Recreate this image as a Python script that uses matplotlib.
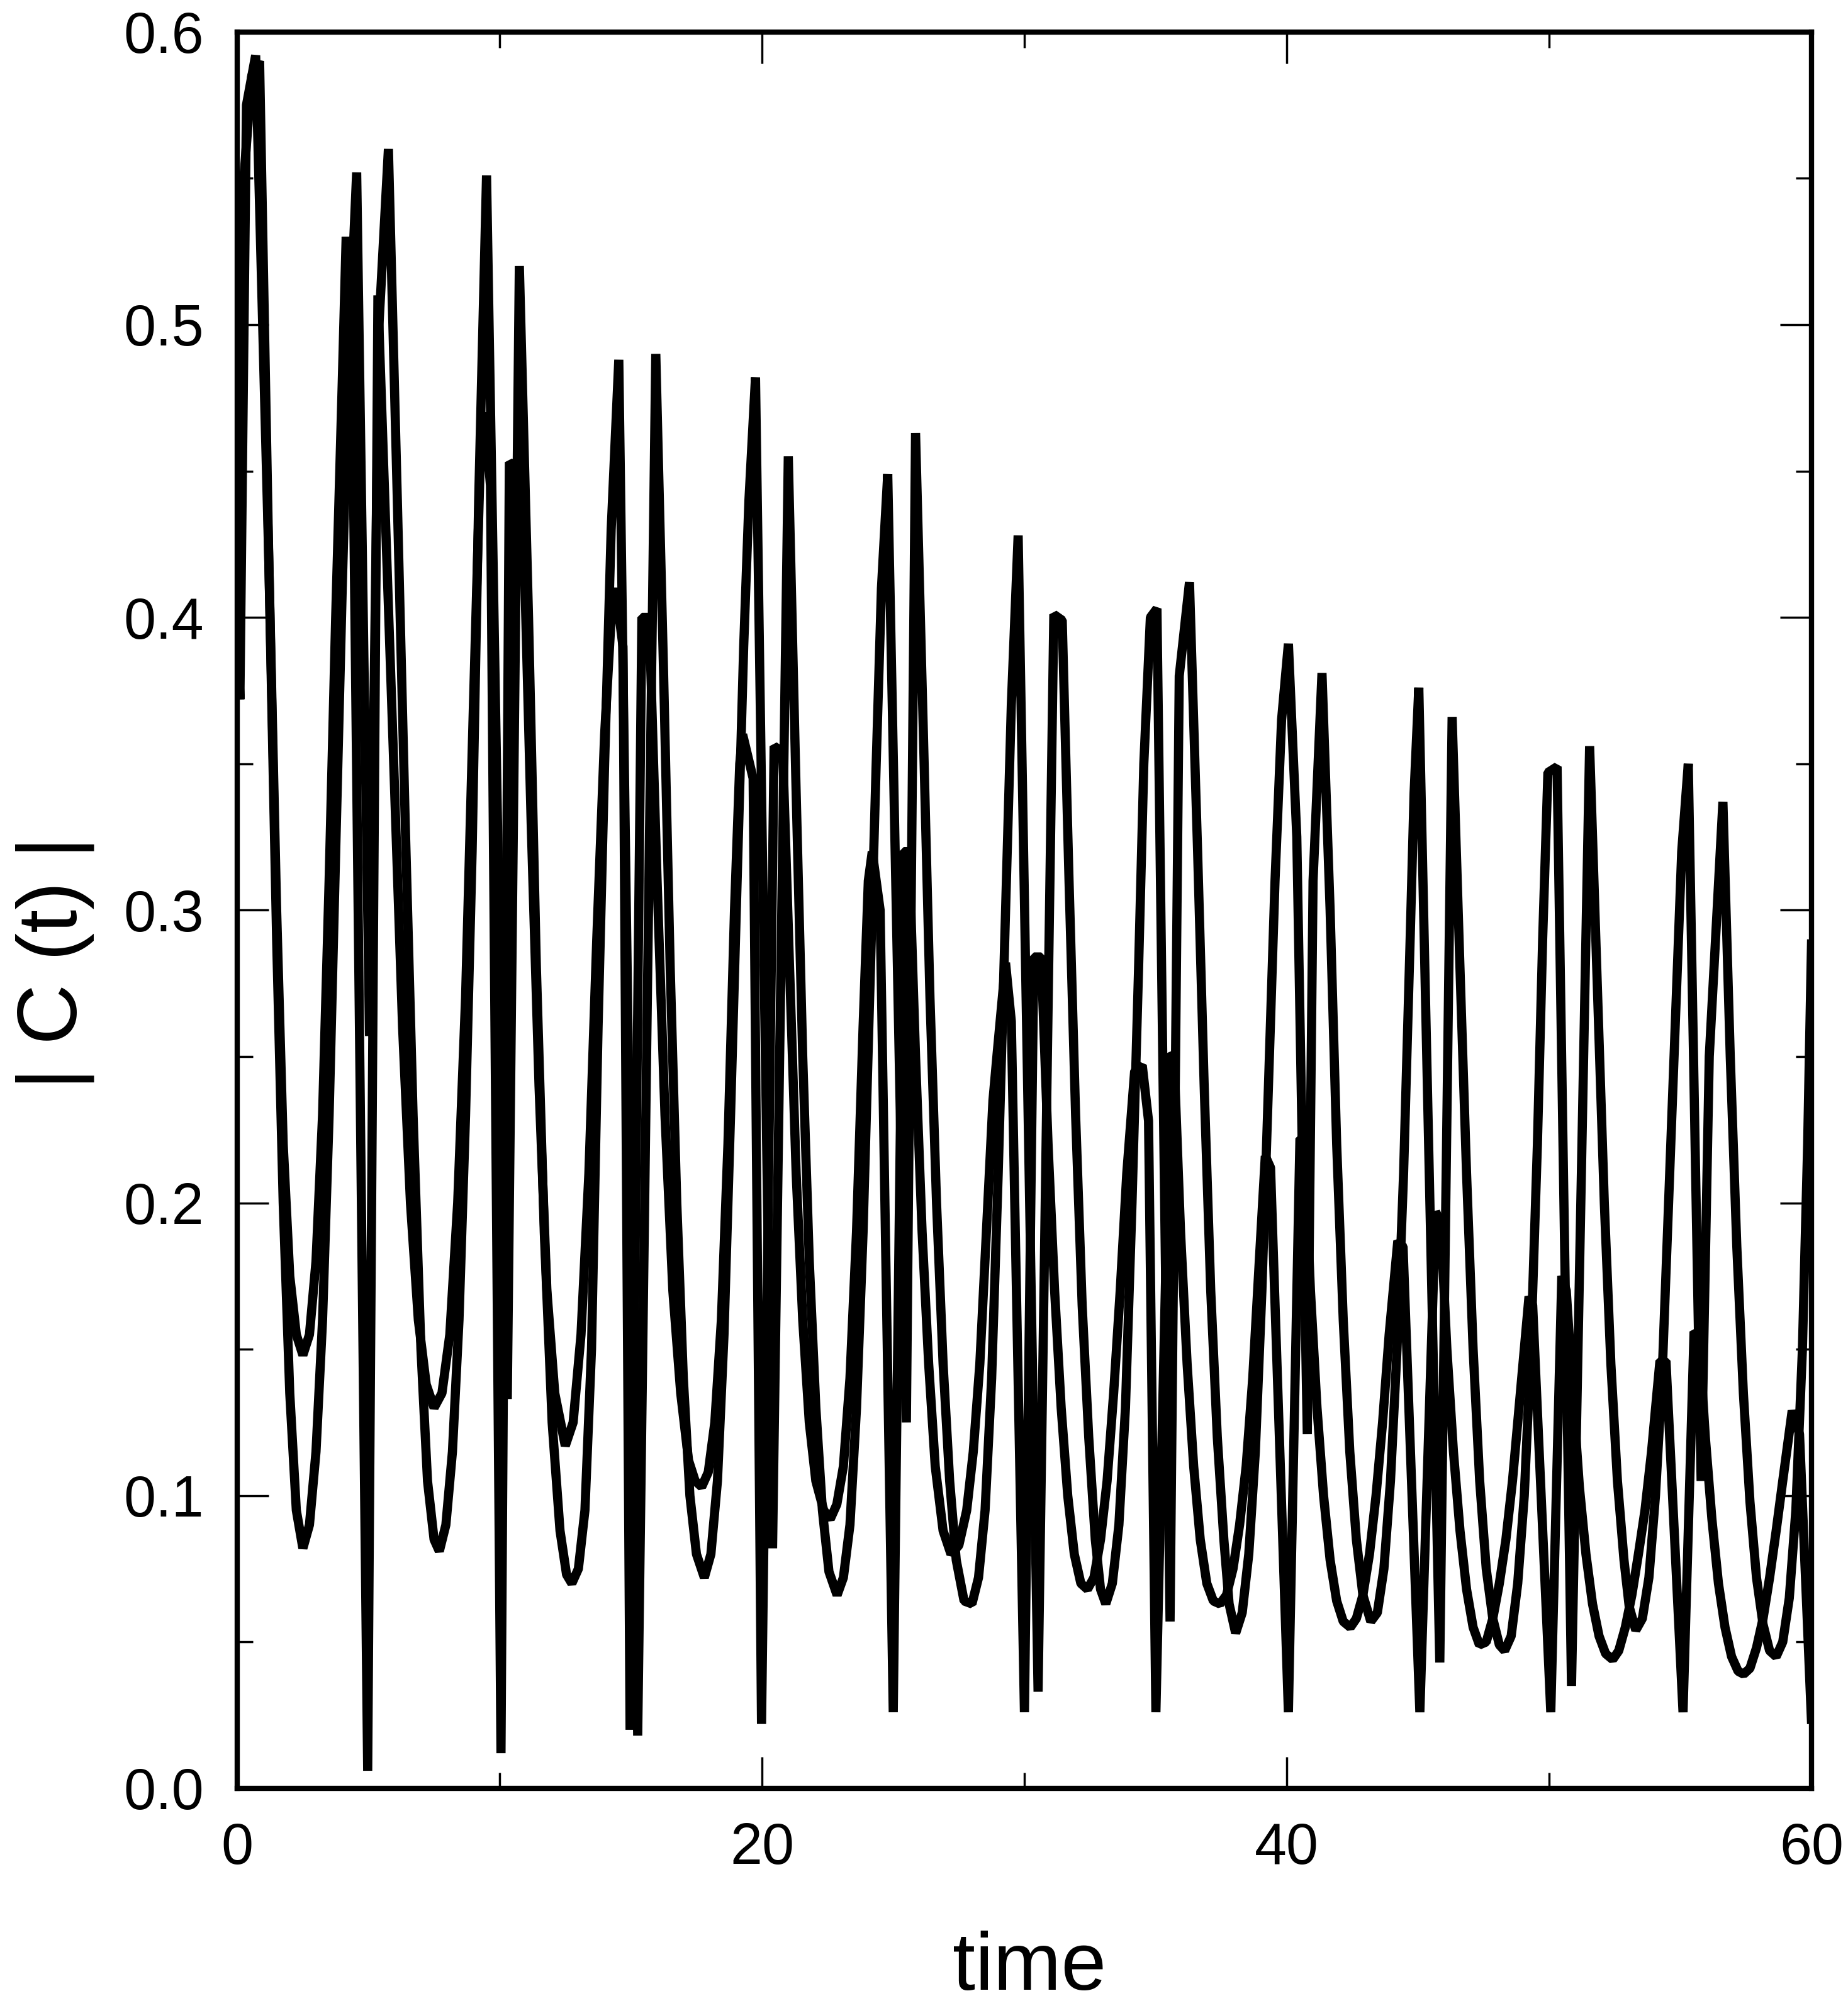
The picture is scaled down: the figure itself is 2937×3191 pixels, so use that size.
import matplotlib
matplotlib.use("Agg")
import matplotlib.pyplot as plt
from matplotlib.ticker import MultipleLocator

plt.rcParams['font.family'] = ['Liberation Sans', 'DejaVu Sans']

# |C(t)|, (time, value) vertices of the two traces
curve_a = [
    (0, 0.42), (0.25, 0.55), (0.55, 0.585), (0.85, 0.59),
    (1.2, 0.42), (1.5, 0.29), (1.75, 0.20), (2.0, 0.135), (2.25, 0.095), (2.5, 0.082), (2.75, 0.09),
    (3.0, 0.115), (3.25, 0.16), (3.5, 0.23), (3.75, 0.32), (4.0, 0.41), (4.25, 0.49),
    (4.55, 0.552), (5.04, 0.257), (5.4, 0.50), (5.76, 0.56),
    (6.1, 0.44), (6.4, 0.33), (6.7, 0.23), (7.0, 0.15), (7.25, 0.105), (7.5, 0.085), (7.7, 0.081),
    (7.95, 0.09), (8.2, 0.115), (8.45, 0.16), (8.7, 0.23), (8.95, 0.32), (9.2, 0.44),
    (9.5, 0.551), (10.29, 0.133), (10.75, 0.52),
    (11.1, 0.40), (11.4, 0.28), (11.7, 0.19), (12.0, 0.125), (12.3, 0.088), (12.55, 0.073), (12.75, 0.07),
    (13.0, 0.075), (13.25, 0.095), (13.5, 0.15), (13.75, 0.26), (14.0, 0.35), (14.25, 0.43),
    (14.54, 0.488), (15.26, 0.018), (15.95, 0.49),
    (16.25, 0.38), (16.5, 0.28), (16.75, 0.2), (17.0, 0.14), (17.25, 0.1), (17.5, 0.08), (17.8, 0.072),
    (18.05, 0.08), (18.3, 0.105), (18.55, 0.155), (18.8, 0.23), (19.05, 0.31), (19.3, 0.39), (19.5, 0.44),
    (19.75, 0.482), (20.4, 0.082), (21.0, 0.455),
    (21.3, 0.34), (21.55, 0.25), (21.8, 0.18), (22.05, 0.13), (22.3, 0.095), (22.55, 0.074), (22.86, 0.066),
    (23.1, 0.072), (23.35, 0.09), (23.6, 0.13), (23.85, 0.19), (24.1, 0.27), (24.35, 0.35), (24.55, 0.41),
    (24.79, 0.449), (25.5, 0.125), (25.85, 0.463),
    (26.15, 0.36), (26.4, 0.27), (26.65, 0.2), (26.9, 0.145), (27.15, 0.105), (27.4, 0.078), (27.7, 0.064),
    (28.0, 0.063), (28.25, 0.072), (28.5, 0.095), (28.75, 0.14), (29.0, 0.21), (29.25, 0.29), (29.5, 0.37),
    (29.76, 0.428), (30.52, 0.033), (31.12, 0.401), (31.44, 0.399),
    (31.7, 0.31), (31.95, 0.23), (32.2, 0.165), (32.45, 0.12), (32.7, 0.085), (32.9, 0.068), (33.1, 0.063),
    (33.35, 0.07), (33.6, 0.09), (33.85, 0.13), (34.1, 0.2), (34.35, 0.28), (34.55, 0.35),
    (34.8, 0.40), (35.05, 0.403), (35.55, 0.057), (35.9, 0.38), (36.29, 0.412),
    (36.6, 0.32), (36.85, 0.24), (37.1, 0.17), (37.35, 0.12), (37.6, 0.085), (37.8, 0.063), (38.05, 0.053),
    (38.3, 0.06), (38.55, 0.08), (38.8, 0.115), (39.05, 0.17), (39.3, 0.24), (39.55, 0.31), (39.8, 0.365),
    (40.06, 0.391), (40.38, 0.325), (40.78, 0.121), (41.0, 0.31), (41.34, 0.381),
    (41.65, 0.3), (41.9, 0.22), (42.15, 0.16), (42.4, 0.115), (42.65, 0.085), (42.9, 0.066), (43.2, 0.057),
    (43.45, 0.06), (43.7, 0.075), (43.95, 0.105), (44.2, 0.15), (44.45, 0.21), (44.7, 0.29), (44.85, 0.34),
    (45.03, 0.376), (45.83, 0.043), (46.3, 0.366),
    (46.6, 0.28), (46.85, 0.21), (47.1, 0.15), (47.35, 0.105), (47.6, 0.075), (47.85, 0.058), (48.1, 0.049),
    (48.3, 0.047), (48.55, 0.052), (48.8, 0.07), (49.05, 0.1), (49.3, 0.15), (49.55, 0.22), (49.75, 0.29),
    (49.95, 0.347), (50.3, 0.349), (50.85, 0.035), (51.54, 0.356),
    (51.85, 0.27), (52.1, 0.2), (52.35, 0.145), (52.6, 0.105), (52.85, 0.078), (53.05, 0.062), (53.3, 0.054),
    (53.55, 0.058), (53.8, 0.072), (54.05, 0.1), (54.3, 0.14), (54.55, 0.2), (54.8, 0.26), (55.05, 0.32),
    (55.3, 0.35), (55.79, 0.105), (56.1, 0.25), (56.62, 0.337),
    (56.9, 0.25), (57.15, 0.185), (57.4, 0.135), (57.65, 0.098), (57.9, 0.072), (58.15, 0.056), (58.4, 0.047),
    (58.65, 0.045), (58.9, 0.05), (59.15, 0.065), (59.4, 0.095), (59.65, 0.15), (59.85, 0.22), (60.0, 0.29),
]

curve_b = [
    (0, 0.40), (0.1, 0.372), (0.35, 0.575), (0.7, 0.592),
    (1.2, 0.42), (1.5, 0.30), (1.75, 0.22), (2.0, 0.175), (2.25, 0.155), (2.5, 0.148), (2.75, 0.155),
    (3.0, 0.18), (3.25, 0.23), (3.5, 0.31), (3.75, 0.40), (4.0, 0.48),
    (4.15, 0.53), (4.36, 0.50), (4.97, 0.006), (5.36, 0.51),
    (5.7, 0.42), (6.0, 0.34), (6.3, 0.26), (6.6, 0.2), (6.9, 0.16), (7.2, 0.138), (7.5, 0.13), (7.8, 0.135),
    (8.1, 0.155), (8.4, 0.2), (8.7, 0.27), (9.0, 0.37), (9.25, 0.45),
    (9.41, 0.47), (9.65, 0.445), (10.05, 0.012), (10.37, 0.453), (10.85, 0.45),
    (11.2, 0.33), (11.5, 0.24), (11.8, 0.17), (12.1, 0.135), (12.5, 0.117), (12.8, 0.125), (13.1, 0.155),
    (13.4, 0.21), (13.7, 0.29), (14.0, 0.36), (14.25, 0.40),
    (14.42, 0.41), (14.7, 0.39), (14.97, 0.02), (15.42, 0.40), (15.7, 0.40),
    (16.0, 0.31), (16.3, 0.23), (16.6, 0.17), (16.9, 0.135), (17.2, 0.112), (17.45, 0.105), (17.7, 0.103),
    (17.95, 0.108), (18.2, 0.125), (18.45, 0.16), (18.7, 0.22), (18.95, 0.3), (19.15, 0.35),
    (19.26, 0.36), (19.66, 0.345), (19.98, 0.022), (20.46, 0.356), (20.79, 0.354),
    (21.05, 0.28), (21.3, 0.21), (21.55, 0.16), (21.8, 0.125), (22.05, 0.105), (22.35, 0.095), (22.6, 0.092),
    (22.85, 0.097), (23.1, 0.11), (23.35, 0.14), (23.6, 0.19), (23.85, 0.26), (24.05, 0.31),
    (24.2, 0.32), (24.5, 0.30), (25.0, 0.026), (25.4, 0.32), (25.6, 0.32),
    (25.85, 0.25), (26.1, 0.19), (26.35, 0.145), (26.6, 0.11), (26.9, 0.088), (27.2, 0.08), (27.5, 0.083),
    (27.8, 0.095), (28.05, 0.115), (28.3, 0.145), (28.55, 0.19), (28.8, 0.235), (28.96, 0.251),
    (29.28, 0.282), (29.5, 0.262), (30.0, 0.026), (30.36, 0.284), (30.64, 0.284),
    (30.9, 0.22), (31.15, 0.17), (31.4, 0.13), (31.65, 0.1), (31.9, 0.08), (32.15, 0.07), (32.4, 0.068),
    (32.65, 0.072), (32.9, 0.085), (33.15, 0.105), (33.4, 0.135), (33.65, 0.17), (33.9, 0.21), (34.2, 0.245),
    (34.49, 0.247), (34.73, 0.228), (35.01, 0.026), (35.57, 0.251), (35.7, 0.25),
    (35.95, 0.19), (36.2, 0.145), (36.45, 0.11), (36.7, 0.085), (36.95, 0.07), (37.2, 0.064), (37.45, 0.063),
    (37.7, 0.066), (37.95, 0.075), (38.2, 0.09), (38.45, 0.11), (38.7, 0.14), (38.95, 0.18), (39.18, 0.216),
    (39.38, 0.212), (40.06, 0.026), (40.5, 0.222), (40.66, 0.222),
    (40.9, 0.17), (41.15, 0.13), (41.4, 0.1), (41.65, 0.078), (41.9, 0.064), (42.15, 0.057), (42.42, 0.055),
    (42.65, 0.058), (42.9, 0.066), (43.15, 0.08), (43.4, 0.1), (43.65, 0.125), (43.9, 0.155), (44.23, 0.187),
    (44.43, 0.185), (45.07, 0.026), (45.67, 0.197), (45.87, 0.193),
    (46.1, 0.15), (46.35, 0.115), (46.6, 0.088), (46.85, 0.068), (47.1, 0.055), (47.34, 0.049), (47.6, 0.05),
    (47.85, 0.058), (48.1, 0.07), (48.35, 0.085), (48.6, 0.105), (48.85, 0.13), (49.05, 0.15), (49.23, 0.168),
    (49.37, 0.165), (50.06, 0.026), (50.48, 0.175), (50.65, 0.17),
    (50.9, 0.135), (51.15, 0.103), (51.4, 0.08), (51.65, 0.063), (51.9, 0.052), (52.15, 0.046), (52.42, 0.044),
    (52.65, 0.047), (52.9, 0.055), (53.15, 0.066), (53.4, 0.08), (53.65, 0.095), (53.9, 0.115), (54.22, 0.146),
    (54.45, 0.146), (55.1, 0.026), (55.52, 0.156), (55.7, 0.155),
    (55.95, 0.12), (56.2, 0.092), (56.45, 0.07), (56.7, 0.055), (56.95, 0.045), (57.2, 0.04), (57.41, 0.039),
    (57.65, 0.041), (57.9, 0.048), (58.15, 0.058), (58.4, 0.072), (58.65, 0.088), (58.9, 0.105), (59.26, 0.129),
    (59.54, 0.121), (60.0, 0.022),
]

x_ticks = [0, 20, 40, 60]
y_ticks = [0.0, 0.1, 0.2, 0.3, 0.4, 0.5, 0.6]

fig = plt.figure(figsize=(29.37, 31.91), dpi=100)
ax = fig.add_axes([0.1284, 0.1094, 0.8519, 0.8747])

for curve in (curve_a, curve_b):
    t = [p[0] for p in curve]
    c = [p[1] for p in curve]
    ax.plot(t, c, color='black', lw=10.5, solid_joinstyle='bevel', solid_capstyle='butt')

ax.set_xlim(0, 60)
ax.set_ylim(0, 0.6)
ax.set_xticks(x_ticks)
ax.set_yticks(y_ticks)
ax.set_yticklabels([f"{v:.1f}" for v in y_ticks])
ax.xaxis.set_minor_locator(MultipleLocator(10))
ax.yaxis.set_minor_locator(MultipleLocator(0.05))

ax.tick_params(which='both', direction='in', top=True, right=True, width=2.5)
ax.tick_params(which='major', length=36, labelsize=66, pad=38)
ax.tick_params(which='minor', length=18)
for s in ax.spines.values():
    s.set_linewidth(6)

ax.set_xlabel('time', fontsize=93)
ax.xaxis.label.set_va('baseline')
ax.xaxis.set_label_coords(0.503, -0.1147)
ax.set_ylabel('| C (t) |', fontsize=96)
ax.yaxis.label.set_va('center')
ax.yaxis.set_label_coords(-0.116, 0.47)

fig.savefig('out.png', dpi=100)
